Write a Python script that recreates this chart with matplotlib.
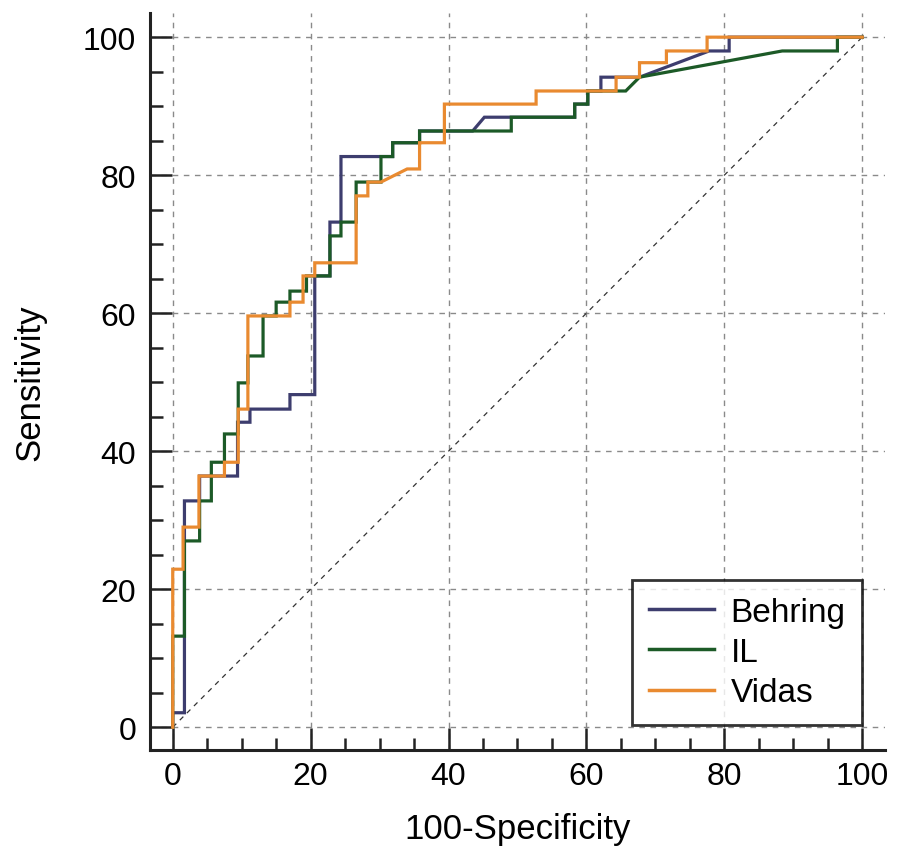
import matplotlib
matplotlib.use("Agg")
import matplotlib.pyplot as plt
from matplotlib.ticker import MultipleLocator

plt.rcParams['font.family'] = ['Liberation Sans', 'DejaVu Sans']

# ROC curve vertices (100-Specificity, Sensitivity)
behring_x = [0, 0, 1.7, 1.7, 3.9, 3.9, 9.4, 9.4, 11.2, 11.2, 17.0, 17.0, 20.6, 20.6, 22.8, 22.8,
             24.4, 24.4, 31.9, 31.9, 35.8, 35.8, 43.5, 45.2, 58.3, 58.3, 60.2, 60.2, 62.1, 62.1,
             67.7, 77.8, 80.7, 80.7, 100]
behring_y = [0, 2.1, 2.1, 32.8, 32.8, 36.4, 36.4, 44.2, 44.2, 46.1, 46.1, 48.2, 48.2, 65.4, 65.4, 73.2,
             73.2, 82.7, 82.7, 84.7, 84.7, 86.4, 86.4, 88.4, 88.4, 90.3, 90.3, 92.2, 92.2, 94.2,
             94.2, 98.0, 98.0, 100, 100]

il_x = [0, 0, 1.7, 1.7, 3.9, 3.9, 5.6, 5.6, 7.5, 7.5, 9.5, 9.5, 10.9, 10.9, 13.1, 13.1, 15.0, 15.0,
        17.0, 17.0, 19.4, 19.4, 22.8, 22.8, 24.4, 24.4, 26.6, 26.6, 30.2, 30.2, 31.9, 31.9, 35.8, 35.8,
        49.1, 49.1, 58.3, 58.3, 60.2, 60.2, 65.7, 67.7, 88.4, 96.4, 96.4, 100]
il_y = [0, 13.2, 13.2, 27.0, 27.0, 32.8, 32.8, 38.4, 38.4, 42.5, 42.5, 49.9, 49.9, 53.8, 53.8, 59.6, 59.6, 61.6,
        61.6, 63.2, 63.2, 65.4, 65.4, 71.2, 71.2, 73.2, 73.2, 79.0, 79.0, 82.7, 82.7, 84.7, 84.7, 86.4,
        86.4, 88.4, 88.4, 90.3, 90.3, 92.2, 92.2, 94.2, 98.0, 98.0, 100, 100]

vidas_x = [0, 0, 1.5, 1.5, 3.8, 3.8, 7.5, 7.5, 9.5, 9.5, 10.9, 10.9, 17.0, 17.0, 18.9, 18.9, 20.6, 20.6,
           26.6, 26.6, 28.3, 28.3, 30.2, 32.2, 34.0, 35.8, 35.8, 39.4, 39.4, 52.7, 52.7, 64.3, 64.3,
           67.7, 67.7, 71.6, 71.6, 77.5, 77.5, 100]
vidas_y = [0, 22.9, 22.9, 29.0, 29.0, 36.4, 36.4, 38.4, 38.4, 46.1, 46.1, 59.6, 59.6, 61.6, 61.6, 65.4, 65.4, 67.3,
           67.3, 77.0, 77.0, 79.0, 79.0, 80.0, 80.9, 80.9, 84.7, 84.7, 90.3, 90.3, 92.2, 92.2, 94.2,
           94.2, 96.3, 96.3, 98.0, 98.0, 100, 100]

series_names = ["Behring", "IL", "Vidas"]
series_colors = ["#3d3d6e", "#1c5a27", "#e98a30"]

x_ticks = [0, 20, 40, 60, 80, 100]
y_ticks = [0, 20, 40, 60, 80, 100]

fig = plt.figure(figsize=(8.97, 8.54), dpi=100)
ax = fig.add_axes([0.1672, 0.1206, 0.8194, 0.8630])

ax.plot([0, 100], [0, 100], color="#333333", lw=0.9, ls=(0, (4, 4)), zorder=1)

for xs, ys, name, col in zip([behring_x, il_x, vidas_x], [behring_y, il_y, vidas_y],
                             series_names, series_colors):
    ax.plot(xs, ys, color=col, lw=2.3, label=name, zorder=3, solid_joinstyle='miter')

ax.set_xlim(-3.3, 103.3)
ax.set_ylim(-3.3, 103.5)
ax.set_xticks(x_ticks)
ax.set_yticks(y_ticks)
ax.xaxis.set_minor_locator(MultipleLocator(5))
ax.yaxis.set_minor_locator(MultipleLocator(5))
ax.grid(True, which="major", color="#8a8a8a", lw=1.0, ls=(0, (4, 4)))
ax.set_axisbelow(True)

for s in ["top", "right"]:
    ax.spines[s].set_visible(False)
for s in ["left", "bottom"]:
    ax.spines[s].set_linewidth(2.2)
    ax.spines[s].set_color("#222222")

ax.tick_params(which="major", direction="in", length=16, width=1.8, color="#222222",
               labelsize=23, pad=10)
ax.tick_params(which="minor", direction="in", length=9, width=1.8, color="#222222")
ax.tick_params(axis="x", pad=8)

ax.set_xlabel("100-Specificity", fontsize=25, labelpad=15)
ax.set_ylabel("Sensitivity", fontsize=25, labelpad=26)

leg = ax.legend(loc="lower right", bbox_to_anchor=(0.969, 0.034), borderaxespad=0,
                fontsize=24, frameon=True, fancybox=False, edgecolor="black",
                handlelength=1.95, labelspacing=0.28, borderpad=0.5, handletextpad=0.5)
leg.get_frame().set_linewidth(2.0)
for h in leg.get_lines():
    h.set_linewidth(2.5)

fig.savefig("out.png", dpi=100)
